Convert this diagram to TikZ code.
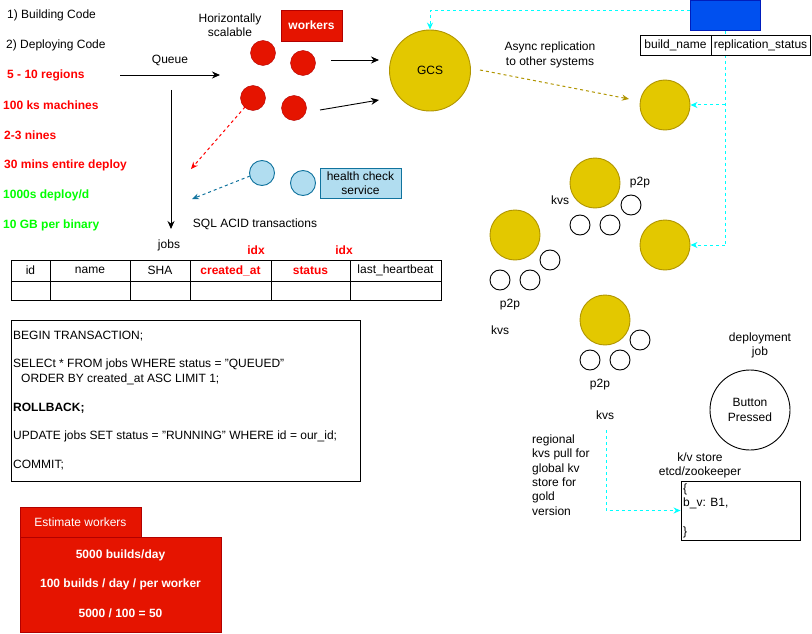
\documentclass[tikz,border=0pt]{standalone}
\usepackage{fontspec}
\setmainfont{Liberation Sans}
\usetikzlibrary{arrows.meta}
\definecolor{dred}{HTML}{E51400}
\definecolor{dredb}{HTML}{B20000}
\definecolor{gold}{HTML}{E3C800}
\definecolor{goldb}{HTML}{B09500}
\definecolor{lblue}{HTML}{B1DDF0}
\definecolor{lblueb}{HTML}{10739E}
\definecolor{rblue}{HTML}{0050EF}
\definecolor{rblueb}{HTML}{001DBC}
\definecolor{cyanl}{HTML}{00FFFF}
\definecolor{txtred}{HTML}{FF0000}
\definecolor{txtgreen}{HTML}{00FF00}
\begin{document}
\begin{tikzpicture}[x=1pt,y=-1pt,
  every node/.style={font=\fontsize{12}{14.4}\selectfont, inner sep=0pt},
  txt/.style={anchor=west},
  redtxt/.style={anchor=west, text=txtred, font=\fontsize{12}{14.4}\selectfont\bfseries},
  greentxt/.style={anchor=west, text=txtgreen, font=\fontsize{12}{14.4}\selectfont\bfseries},
  boldred/.style={text=txtred, font=\fontsize{12}{14.4}\selectfont\bfseries},
  arr/.style={-{Stealth[length=8pt,width=7pt]}, line width=0.9pt},
  dasharr/.style={-{Stealth[length=7pt,width=6pt]}, line width=1pt, dash pattern=on 3pt off 3pt},
  worker/.style={circle, fill=dred, draw=dredb, minimum size=25pt},
  hcircle/.style={circle, fill=lblue, draw=lblueb, line width=0.9pt, minimum size=25pt},
  bigy/.style={circle, fill=gold, draw=goldb, line width=0.9pt, minimum size=50pt},
  smallc/.style={circle, draw=black, line width=0.9pt, minimum size=20pt},
  cell/.style={draw=black, line width=0.9pt, fill=white}
]
\useasboundingbox (0,0) rectangle (812,634);

% left column
\node[txt] (t1) at (7,15) {1) Building Code};
\node[txt] (t2) at (6,45) {2) Deploying Code};
\node[redtxt] (t3) at (7,75) {5 - 10 regions};
\node[redtxt] (t4) at (3,105) {100 ks machines};
\node[redtxt] (t5) at (4,135) {2-3 nines};
\node[redtxt] (t6) at (4,165) {30 mins entire deploy};
\node[greentxt] (t7) at (3,195) {1000s deploy/d};
\node[greentxt] (t8) at (3,225) {10 GB per binary};

% queue
\coordinate (qa) at (120,75);
\coordinate (qb) at (220,75);
\draw[arr] (qa) -- (qb);
\node (queue) at (170,60) {Queue};
\coordinate (va) at (171,90);
\coordinate (vb) at (171,229);
\draw[arr] (va) -- (vb);

% workers
\node[align=center] (hs) at (230,25) {Horizontally\\scalable};
\node[draw=dredb, fill=dred, text=white, font=\fontsize{12}{14.4}\selectfont\bfseries, minimum width=61pt, minimum height=31pt] (wk) at (311.5,25.5) {workers};
\node[worker] (w1) at (263,53) {};
\node[worker] (w2) at (303,63) {};
\node[worker] (w3) at (253,98) {};
\node[worker] (w4) at (294,108) {};

% GCS
\node[circle, fill=gold, draw=goldb, line width=0.9pt, minimum size=81pt] (gcs) at (430,70.5) {GCS};
\coordinate (ga1) at (331,60);
\coordinate (gb1) at (379,60);
\draw[arr] (ga1) -- (gb1);
\coordinate (ga2) at (320,110);
\coordinate (gb2) at (379,100);
\draw[arr] (ga2) -- (gb2);

% red dashed arrow
\coordinate (rd1) at (245,107);
\coordinate (rd2) at (191,169);
\draw[dasharr, txtred] (rd1) -- (rd2);

% health check
\node[hcircle] (h1) at (262,173) {};
\node[hcircle] (h2) at (303,183) {};
\node[draw=lblueb, fill=lblue, line width=0.9pt, minimum width=81pt, minimum height=30pt, align=center] (hc) at (360.5,183) {health check\\service};
\coordinate (bd1) at (250,176);
\coordinate (bd2) at (192,199);
\draw[dasharr, lblueb] (bd1) -- (bd2);

\node (sql) at (255,224) {SQL ACID transactions};

% jobs table
\node (jobs) at (169,245) {jobs};
\node[boldred] (idx1) at (256,250) {idx};
\node[boldred] (idx2) at (344,250) {idx};
\draw[line width=0.9pt] (11,260) rectangle (441,300);
\draw[line width=0.9pt] (11,281) -- (441,281);
\foreach \x in {50,130,190,271,350} \draw[line width=0.9pt] (\x,260) -- (\x,300);
\node (c1) at (30.5,270.5) {id};
\node (c2) at (90,270.5) {name};
\node (c3) at (160,270.5) {SHA};
\node[boldred] (c4) at (230.5,270.5) {created\_at};
\node[boldred] (c5) at (310.5,270.5) {status};
\node (c6) at (395.5,270.5) {last\_heartbeat};

% SQL box
\draw[line width=0.9pt] (11,320) rectangle (360,481);
\node[txt] (s1) at (13,336) {BEGIN TRANSACTION;};
\node[txt] (s2) at (13,364.5) {SELECt * FROM jobs WHERE status = "QUEUED"};
\node[txt] (s3) at (21,379) {ORDER BY created\_at ASC LIMIT 1;};
\node[txt, font=\fontsize{12}{14.4}\selectfont\bfseries] (s4) at (13,408) {ROLLBACK;};
\node[txt] (s5) at (13,436.5) {UPDATE jobs SET status = "RUNNING" WHERE id = our\_id;};
\node[txt] (s6) at (13,465) {COMMIT;};

% estimate workers
\draw[draw=dredb, fill=dred] (20,507) rectangle (141,537);
\node[text=white] (ew) at (80.5,522) {Estimate workers};
\draw[draw=dredb, fill=dred] (20,537) rectangle (221,632);
\node[text=white, font=\fontsize{12}{14.4}\selectfont\bfseries] (e1) at (120.5,555) {5000 builds/day};
\node[text=white, font=\fontsize{12}{14.4}\selectfont\bfseries] (e2) at (120.5,584) {100 builds / day / per worker};
\node[text=white, font=\fontsize{12}{14.4}\selectfont\bfseries] (e3) at (120.5,613) {5000 / 100 = 50};

% top right
\node[draw=rblueb, fill=rblue, line width=0.9pt, minimum width=70pt, minimum height=30pt] (bb) at (725,15.5) {};
\coordinate (cj1) at (725,105);
\coordinate (cj2) at (725,245);
\draw[cyanl, line width=1pt, dash pattern=on 3pt off 3pt] (bb.south) -- (cj2);
\node[cell, minimum width=71pt, minimum height=20pt] (tb1) at (675.5,45) {build\_name};
\node[cell, minimum width=99pt, minimum height=20pt] (tb2) at (760.5,45) {replication\_status};
\draw[dasharr, cyanl] ([yshift=5pt]bb.west) -| (gcs.north);

\node[bigy] (y1) at (665,105) {};
\node[bigy] (y4) at (665,245) {};
\draw[dasharr, cyanl] (cj1) -- (y1.east);
\draw[dasharr, cyanl] (cj2) -- (y4.east);

\coordinate (gd1) at (480,70);
\coordinate (gd2) at (629,99);
\draw[dasharr, goldb] (gd1) -- (gd2);
\node[align=center] (async) at (550,55) {Async replication\\to other systems};

% p2p clusters
\node[bigy] (ya) at (595,183) {};
\node[smallc] (a1) at (580,225) {};
\node[smallc] (a2) at (610,225) {};
\node[smallc] (a3) at (631,205) {};
\node (kvsa) at (560,200) {kvs};
\node (p2pa) at (640,183) {p2p};

\node[bigy] (yb) at (515,235) {};
\node[smallc] (b1) at (500,280) {};
\node[smallc] (b2) at (530,280) {};
\node[smallc] (b3) at (550,260) {};
\node (p2pb) at (510,305) {p2p};
\node (kvsb) at (500,330) {kvs};

\node[bigy] (yc) at (605,320) {};
\node[smallc] (cc1) at (590,360) {};
\node[smallc] (cc2) at (620,360) {};
\node[smallc] (cc3) at (640,340) {};
\node (p2pc) at (600,385) {p2p};
\node (kvsc) at (605,415) {kvs};

% deployment
\node[align=center] (dj) at (760,345.5) {deployment\\job};
\node[circle, draw=black, line width=0.9pt, minimum size=80pt, align=center] (bp) at (750,410) {Button\\Pressed};
\node[align=center] (kvl) at (700,465.5) {k/v store\\etcd/zookeeper};
\node[draw=black, line width=0.9pt, minimum width=119pt, minimum height=59pt] (kvbox) at (740.5,510.5) {};
\node[anchor=west] (kv1) at (683,489) {\{};
\node[anchor=west] (kv2) at (683,503.5) {b\_v: B1,};
\node[anchor=west] (kv3) at (683,532) {\}};
\node[align=left, anchor=west] (reg) at (532,475) {regional\\kvs pull for\\global kv\\store for\\gold\\version};
\coordinate (kp) at (606,430);
\draw[dasharr, cyanl] (kp) |- (kvbox.west);
\end{tikzpicture}
\end{document}
